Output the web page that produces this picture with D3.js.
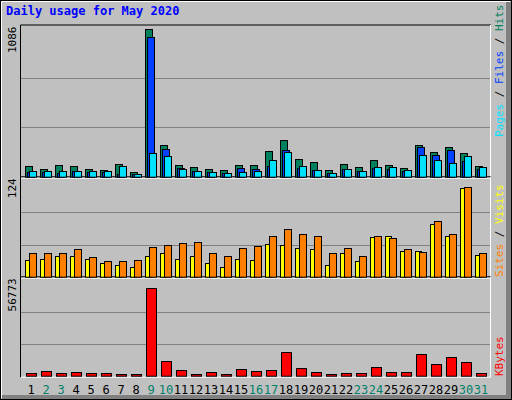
<!DOCTYPE html><html><head><meta charset="utf-8">
<script src="https://cdn.jsdelivr.net/npm/d3@7"></script>
<style>body{margin:0;background:#fff}svg{display:block}text{font-family:"DejaVu Sans Mono",monospace}</style></head><body>
<script>
const days=d3.range(1,32);
const weekend=[2,3,9,10,16,17,23,24,30,31];
const hits=[79,57,86,79,57,49,93,34,1086,231,86,71,57,49,86,86,189,270,130,108,49,93,71,123,86,64,233,182,219,174,79];
const files=[34,37,27,39,32,37,22,22,1027,201,61,42,34,29,64,57,79,197,64,49,27,57,42,64,57,42,219,160,197,115,57];
const pages=[42,42,42,42,42,42,79,20,172,152,57,42,34,27,34,42,123,179,79,49,27,57,42,71,71,49,160,123,101,152,71];
const sites=[22,23,26,26,23,17,15,12,27,30,23,27,18,12,23,21,42,41,37,35,15,30,20,51,52,33,33,68,52,114,28];
const visits=[30,30,30,35,25,20,20,22,38,41,43,45,31,26,37,40,52,61,55,52,30,37,27,52,50,35,32,72,55,116,30];
const kbytes=[1340,3060,1340,2490,1340,1340,760,760,52390,8800,3630,1150,1910,760,4210,3060,3630,13960,4780,1910,760,1340,1340,5350,2490,2490,12810,7070,11090,8220,1340];
const maxLabels={top:1086,mid:124,bot:56773};

const svg=d3.select("body").append("svg").attr("width",512).attr("height",400);
svg.append("rect").attr("width",512).attr("height",400).attr("fill","#c0c0c0");
svg.append("rect").attr("x",0.5).attr("y",0.5).attr("width",511).attr("height",399).attr("fill","none").attr("stroke","#000");
svg.append("path").attr("d","M1.5,398V1.5H510").attr("stroke","#fff").attr("fill","none");
svg.append("rect").attr("x",506).attr("y",2).attr("width",5).attr("height",397).attr("fill","#808080");
svg.append("rect").attr("x",2).attr("y",395).attr("width",509).attr("height",4).attr("fill","#808080");

svg.append("text").attr("x",6).attr("y",15).attr("fill","#0000ff").attr("font-weight","bold").attr("font-size",12).text("Daily usage for May 2020");

const x=d3.scaleLinear().domain([1,31]).range([25,475]);
const L=20,R=491;
const panels=[
 {top:28.5,bot:176.7,max:maxLabels.top,label:"1086"},
 {top:180.3,bot:276.7,max:maxLabels.mid,label:"124"},
 {top:280.3,bot:375.7,max:maxLabels.bot,label:"56773"}];
panels.forEach(p=>{
 p.y=d3.scaleLinear().domain([0,p.max]).range([p.bot,p.top]);
 const g=svg.append("g");
 g.append("path").attr("d",`M${L+0.5},${p.bot+1.5}V${p.top-3.5}H${R}`).attr("stroke","#000").attr("fill","none");
 g.append("path").attr("d",`M${L+1},${p.bot+1.5}H${R-0.5}V${p.top-3.5}`).attr("stroke","#fff").attr("fill","none");
 [1/3,2/3].forEach(f=>{const yy=Math.round(p.y(p.max*f))+0.5;
  g.append("line").attr("x1",L+1).attr("x2",R-1).attr("y1",yy).attr("y2",yy).attr("stroke","#808080");});
 g.append("text").attr("transform",`translate(16,${p.top-2}) rotate(-90)`).attr("text-anchor","end").attr("font-size",11).attr("fill","#000").text(p.label);
});
function bars(data,p,off,w,color){
 svg.append("g").selectAll("rect").data(data).join("rect")
  .attr("x",(d,i)=>x(days[i])+off+0.5).attr("width",w)
  .attr("y",d=>Math.round(p.y(d))+0.5).attr("height",d=>Math.max(0,p.bot-Math.round(p.y(d))))
  .attr("fill",color).attr("stroke","#000");
}
bars(hits,panels[0],0,7,"#00805c");
bars(files,panels[0],2,7,"#0040ff");
bars(pages,panels[0],4,7,"#00e0ff");
bars(sites,panels[1],0,6,"#ffff00");
bars(visits,panels[1],4,7,"#ff8000");
bars(kbytes,panels[2],1,10,"#ff0000");

svg.append("g").selectAll("text").data(days).join("text")
 .attr("x",d=>x(d)+6).attr("y",394).attr("text-anchor","middle").attr("font-size",12)
 .attr("font-family","DejaVu Sans").attr("fill",d=>weekend.includes(d)?"#00806a":"#000").text(d=>d);

function legend(yBottom,parts){
 const t=svg.append("text").attr("transform",`translate(503,${yBottom}) rotate(-90)`).attr("font-size",11);
 parts.forEach(([s,c])=>t.append("tspan").attr("fill",c).text(s));
}
legend(137,[["Pages","#00e0ff"],[" / ","#000"],["Files","#0040ff"],[" / ","#000"],["Hits","#00805c"]]);
legend(277,[["Sites","#ff8000"],[" / ","#000"],["Visits","#ffff00"]]);
legend(376,[["KBytes","#ff0000"]]);
</script></body></html>
